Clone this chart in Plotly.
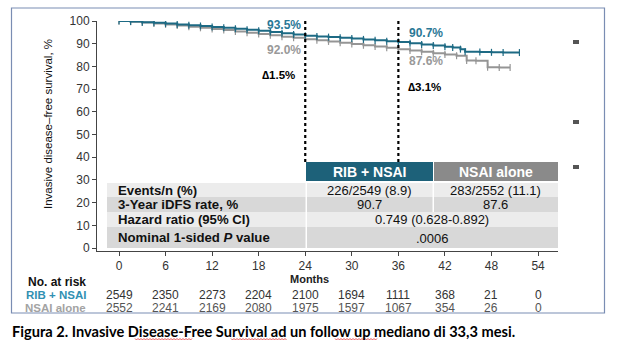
import plotly.graph_objects as go

# ---------------- data ----------------
rib_months = [0, 1.5, 3, 4.5, 6, 7.5, 9, 10.5, 12, 13.5, 15, 16.5, 18, 19.5, 21, 22.5,
              24, 25.5, 27, 28.5, 30, 31.5, 33, 34.5, 36, 37.5, 39, 40.5, 42, 43, 44,
              44.6, 46.5, 48, 49.5, 51.6]
rib_surv = [100, 99.8, 99.5, 99.2, 98.9, 98.5, 98.1, 97.8, 97.4, 97.0, 96.6, 96.1, 95.7,
            95.1, 94.6, 94.0, 93.5, 93.2, 92.9, 92.6, 92.3, 91.9, 91.5, 91.1, 90.7, 90.2,
            89.7, 89.2, 88.7, 88.3, 87.6, 86.4, 86.3, 86.2, 86.1, 86.1]
nsai_months = [0, 1.5, 3, 4.5, 6, 7.5, 9, 10.5, 12, 13.5, 15, 16.5, 18, 19.5, 21, 22.5,
               24, 25.5, 27, 28.5, 30, 31.5, 33, 34.5, 36, 37.5, 39, 40.5, 42, 43.5,
               44.8, 46, 47.5, 49, 50.4]
nsai_surv = [100, 99.7, 99.3, 98.9, 98.5, 98.0, 97.5, 97.0, 96.5, 96.0, 95.4, 94.8, 94.3,
             93.7, 93.1, 92.6, 92.0, 91.5, 91.0, 90.4, 89.9, 89.3, 88.8, 88.2, 87.6, 87.0,
             86.4, 85.8, 85.2, 84.7, 82.6, 82.5, 79.6, 79.5, 79.5]

tick_months = [0, 6, 12, 18, 24, 30, 36, 42, 48, 54]
y_ticks = [0, 10, 20, 30, 40, 50, 60, 70, 80, 90, 100]
risk_rib = [2549, 2350, 2273, 2204, 2100, 1694, 1111, 368, 21, 0]
risk_nsai = [2552, 2241, 2169, 2080, 1975, 1597, 1067, 354, 26, 0]

landmarks = [24, 36]
rib_landmark_txt = ["93.5%", "90.7%"]
nsai_landmark_txt = ["92.0%", "87.6%"]
delta_txt = ["∆1.5%", "∆3.1%"]

arms = ["RIB + NSAI", "NSAI alone"]
table_labels = ["Events/n (%)", "3-Year iDFS rate, %", "Hazard ratio (95% CI)",
                "Nominal 1-sided <i>P</i> value"]
events_vals = ["226/2549 (8.9)", "283/2552 (11.1)"]
rate_vals = ["90.7", "87.6"]
hr_val = "0.749 (0.628-0.892)"
p_val = ".0006"

caption = "Figura 2. Invasive Disease-Free Survival ad un follow up mediano di 33,3 mesi."

# ---------------- styling / geometry ----------------
W, H = 627, 361
ML, MR, MT, MB = 97, 69, 21, 110
PW, PH = W - ML - MR, H - MT - MB
FONT = "Liberation Sans, Arial, sans-serif"
TEAL = "#1d6a84"
TEAL_TXT = "#2a7896"
GRAY = "#959595"
GRAY_TXT = "#999999"


def PX(p):
    return (p - ML) / PW


def PY(p):
    return (H - MB - p) / PH


def A(xp, yp, text, size, color="#111111", xanchor="center", family=FONT, xref="paper", **kw):
    x = PX(xp) if xref == "paper" else xp
    return dict(x=x, y=PY(yp), xref=xref, yref="paper", text=text, xanchor=xanchor,
                yanchor="middle", showarrow=False, font=dict(size=size, color=color, family=family),
                **kw)


fig = go.Figure()
for months, surv, col in [(nsai_months, nsai_surv, GRAY), (rib_months, rib_surv, TEAL)]:
    fig.add_trace(go.Scatter(
        x=months, y=surv, mode="lines+markers", line=dict(color=col, width=2, shape="hv"),
        marker=dict(symbol="line-ns", size=5, line=dict(color=col, width=1.2)),
        hoverinfo="skip", showlegend=False))

shapes = []
ann = []

# dashed landmark lines
for lm in landmarks:
    shapes.append(dict(type="line", xref="x", yref="paper", x0=lm, x1=lm,
                       y0=PY(162), y1=PY(18), line=dict(color="black", width=2.2, dash="dot")))

# landmark annotations
ann += [
    A(303, 25, "<b>" + rib_landmark_txt[0] + "</b>", 12, TEAL_TXT, "right"),
    A(303, 50, "<b>" + nsai_landmark_txt[0] + "</b>", 12, GRAY_TXT, "right"),
    A(297, 75, "<b>" + delta_txt[0] + "</b>", 11.5, "black", "right"),
    A(407, 33, "<b>" + rib_landmark_txt[1] + "</b>", 12, TEAL_TXT, "left"),
    A(407, 61, "<b>" + nsai_landmark_txt[1] + "</b>", 12, GRAY_TXT, "left"),
    A(406, 87, "<b>" + delta_txt[1] + "</b>", 11.5, "black", "left"),
]

# table
LIGHT, DARK = "#ececec", "#d8d8d8"
rows = [(183, 197, LIGHT), (197, 212, DARK), (212, 227, LIGHT), (227, 248, DARK)]
c0, c1, c2, c3 = 107, 306, 433, 558
shapes.append(dict(type="rect", xref="paper", yref="paper", x0=PX(c1), x1=PX(c2),
                   y0=PY(181), y1=PY(162), fillcolor="#1d6179", line=dict(width=0), layer="above"))
shapes.append(dict(type="rect", xref="paper", yref="paper", x0=PX(c2 + 1), x1=PX(c3),
                   y0=PY(181), y1=PY(162), fillcolor="#8a8a8a", line=dict(width=0), layer="above"))
for i, (t, b, colr) in enumerate(rows):
    shapes.append(dict(type="rect", xref="paper", yref="paper", x0=PX(c0), x1=PX(c1 - 0.5),
                       y0=PY(b), y1=PY(t), fillcolor=colr, line=dict(width=0), layer="above"))
    if i < 2:
        shapes.append(dict(type="rect", xref="paper", yref="paper", x0=PX(c1 + 1), x1=PX(c2 - 0.5),
                           y0=PY(b), y1=PY(t), fillcolor=colr, line=dict(width=0), layer="above"))
        shapes.append(dict(type="rect", xref="paper", yref="paper", x0=PX(c2 + 1), x1=PX(c3),
                           y0=PY(b), y1=PY(t), fillcolor=colr, line=dict(width=0), layer="above"))
    else:
        shapes.append(dict(type="rect", xref="paper", yref="paper", x0=PX(c1 + 1), x1=PX(c3),
                           y0=PY(b), y1=PY(t), fillcolor=colr, line=dict(width=0), layer="above"))
    ann.append(A(116, (t + b) / 2, "<b>" + table_labels[i] + "</b>", 13.2, "#111111", "left"))

ann.append(A((c1 + c2) / 2, 171.5, "<b>" + arms[0] + "</b>", 14, "white"))
ann.append(A((c2 + c3) / 2, 171.5, "<b>" + arms[1] + "</b>", 14, "white"))
for j, cx in enumerate([(c1 + c2) / 2, (c2 + c3) / 2]):
    ann.append(A(cx, 190, events_vals[j], 13))
    ann.append(A(cx, 204.5, rate_vals[j], 13))
ann.append(A((c1 + c3) / 2, 219.5, hr_val, 13))
ann.append(A((c1 + c3) / 2, 238, p_val, 13))

# axis title and at-risk table
ann.append(A(309, 279, "<b>Months</b>", 11, "#222222"))
ann.append(A(88, 282, "<b>No. at risk</b>", 12, "#111111", "right"))
ann.append(A(88, 295, "<b>" + arms[0] + "</b>", 11.5, "#3190b2", "right"))
ann.append(A(88, 308, "<b>" + arms[1] + "</b>", 11.5, "#a3a3a3", "right"))
for m, r1, r2 in zip(tick_months, risk_rib, risk_nsai):
    ann.append(A(m, 295, str(r1), 12, "#333333", xref="x"))
    ann.append(A(m, 308, str(r2), 12, "#555555", xref="x"))

# y-axis title
ann.append(A(48, 124, "Invasive disease–free survival, %", 11.5, "#111111", textangle=-90))

# frame
shapes.append(dict(type="rect", xref="paper", yref="paper", x0=PX(11.5), x1=PX(604.5),
                   y0=PY(313), y1=PY(8), line=dict(color="#7a8db3", width=1.2), layer="below"))
# stray markers on right
for yy in [42, 122, 167]:
    shapes.append(dict(type="rect", xref="paper", yref="paper", x0=PX(573), x1=PX(579),
                       y0=PY(yy + 2), y1=PY(yy - 2), fillcolor="#555555", line=dict(width=0)))

# caption
ann.append(A(10, 331, "<b>" + caption + "</b>", 14.6, "black", "left", family="Lato, sans-serif"))

# spell-check squiggles
for xa, xb in [(135, 192), (231, 287), (335, 378)]:
    pts = []
    x = xa
    k = 0
    while x <= xb:
        yy = 339 + (1 if k % 2 else -0.5)
        pts.append(f"{PX(x):.5f},{PY(yy):.5f}")
        x += 1.5
        k += 1
    shapes.append(dict(type="path", xref="paper", yref="paper", path="M" + " L".join(pts),
                       line=dict(color="#e03030", width=0.8)))

fig.update_layout(
    width=W, height=H, margin=dict(l=ML, r=MR, t=MT, b=MB),
    paper_bgcolor="white", plot_bgcolor="white",
    shapes=shapes, annotations=ann, showlegend=False,
    xaxis=dict(range=[-2.835, 56.57], tickvals=tick_months, ticks="outside", ticklen=4,
               tickwidth=1, tickcolor="#444", showline=True, linecolor="#444", linewidth=1,
               showgrid=False, zeroline=False, tickfont=dict(size=12, color="#333", family=FONT)),
    yaxis=dict(range=[-1.32, 100], tickvals=y_ticks, ticks="outside", ticklen=4,
               tickwidth=1, tickcolor="#444", showline=True, linecolor="#444", linewidth=1,
               showgrid=False, zeroline=False, tickfont=dict(size=12, color="#333", family=FONT)),
)

fig.write_html("out.html", config={"displayModeBar": False},
               post_script="document.body.style.margin='0';")
